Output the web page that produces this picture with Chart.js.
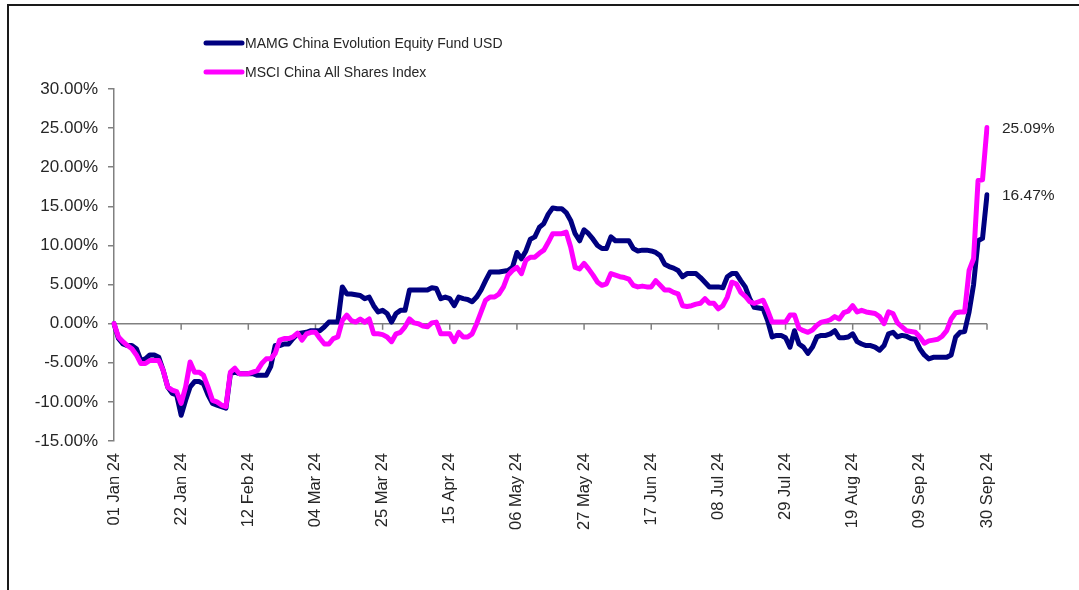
<!DOCTYPE html>
<html>
<head>
<meta charset="utf-8">
<script src="https://cdn.jsdelivr.net/npm/chart.js@4.4.1/dist/chart.umd.min.js"></script>
<style>
html,body{margin:0;padding:0;background:#fff;}
#wrap{width:1079px;height:590px;position:relative;}
</style>
</head>
<body>
<div id="wrap"><canvas id="c" width="1079" height="590"></canvas></div>
<script>
const seriesNames = ['MAMG China Evolution Equity Fund USD', 'MSCI China All Shares Index'];

const tickLabels = ['01 Jan 24','22 Jan 24','12 Feb 24','04 Mar 24','25 Mar 24','15 Apr 24','06 May 24',
  '27 May 24','17 Jun 24','08 Jul 24','29 Jul 24','19 Aug 24','09 Sep 24','30 Sep 24'];

const fundValues = [
  0, -1.9, -2.6, -2.8, -2.8, -3.2, -4.7, -4.5, -4.0, -4.0,
  -4.3, -6.0, -8.1, -8.9, -9.1, -11.7, -9.8, -8.1, -7.4, -7.4,
  -7.7, -9.1, -10.2, -10.4, -10.6, -10.8, -6.4, -6.2, -6.4, -6.4,
  -6.4, -6.4, -6.6, -6.6, -6.6, -5.5, -2.8, -2.8, -2.6, -2.6,
  -1.9, -1.3, -1.2, -1.1, -0.9, -0.9, -0.9, -0.4, 0.2, 0.2,
  0.2, 4.7, 3.8, 3.8, 3.7, 3.6, 3.2, 3.4, 2.3, 1.5,
  1.7, 1.3, 0.2, 1.3, 1.7, 1.7, 4.3, 4.3, 4.3, 4.3,
  4.3, 4.6, 4.5, 3.2, 3.4, 3.2, 2.3, 3.4, 3.2, 3.1,
  2.8, 3.4, 4.3, 5.5, 6.6, 6.6, 6.6, 6.7, 6.8, 7.2,
  9.1, 8.3, 9.3, 10.8, 11.1, 12.3, 12.8, 14.0, 14.8, 14.7,
  14.7, 14.2, 13.2, 11.5, 10.6, 12.0, 11.5, 10.8, 10.0, 9.6,
  9.6, 11.1, 10.6, 10.6, 10.6, 10.6, 9.6, 9.3, 9.4, 9.4,
  9.3, 9.1, 8.7, 7.6, 7.3, 7.1, 6.8, 6.0, 6.4, 6.4,
  6.4, 5.9, 5.3, 4.7, 4.7, 4.7, 4.6, 6.0, 6.4, 6.4,
  5.5, 4.7, 3.2, 2.1, 2.0, 1.9, 0.4, -1.7, -1.5, -1.5,
  -1.8, -3.0, -0.9, -2.6, -3.0, -3.8, -3.0, -1.7, -1.5, -1.5,
  -1.3, -0.9, -1.8, -1.8, -1.7, -1.3, -2.3, -2.6, -2.8, -2.8,
  -3.0, -3.4, -2.8, -1.3, -1.1, -1.7, -1.5, -1.6, -1.9, -2.0,
  -3.2, -4.0, -4.5, -4.3, -4.3, -4.3, -4.3, -4.0, -1.7, -1.1,
  -1.0, 1.5, 5.0, 10.6, 10.9, 16.47
];

const indexValues = [
  0, -1.7, -2.3, -2.8, -3.2, -4.0, -5.1, -5.1, -4.7, -4.7,
  -4.7, -6.0, -8.1, -8.5, -8.7, -10.2, -8.1, -4.9, -6.2, -6.2,
  -6.6, -8.1, -9.8, -10.0, -10.4, -10.6, -6.2, -5.7, -6.4, -6.4,
  -6.4, -6.2, -6.0, -5.1, -4.5, -4.5, -3.8, -2.1, -1.9, -1.9,
  -1.7, -1.2, -2.1, -1.3, -1.1, -1.1, -1.9, -2.6, -2.6, -1.9,
  -1.7, 0.4, 1.1, 0.4, 0.2, 0.6, 0.2, 0.6, -1.3, -1.3,
  -1.4, -1.7, -2.3, -1.3, -1.1, -0.4, 0.6, 0.1, 0, -0.3,
  -0.4, 0.1, 0.2, -1.3, -1.3, -1.3, -2.3, -1.1, -1.7, -1.7,
  -1.3, 0, 1.5, 3.0, 3.4, 3.4, 3.8, 4.7, 6.2, 6.8,
  7.2, 6.4, 8.1, 8.5, 8.5, 9.0, 9.4, 10.4, 11.5, 11.5,
  11.5, 11.7, 9.8, 7.2, 7.0, 7.7, 7.0, 6.2, 5.3, 4.9,
  5.1, 6.4, 6.2, 6.0, 5.9, 5.7, 4.9, 4.7, 4.8, 4.7,
  4.7, 5.5, 4.9, 4.3, 4.3, 4.0, 3.8, 2.3, 2.2, 2.3,
  2.5, 2.6, 3.2, 2.6, 2.6, 1.9, 2.3, 3.4, 5.3, 5.1,
  4.0, 3.5, 2.8, 2.6, 2.8, 3.0, 1.7, 0.2, 0.2, 0.2,
  0.2, 1.1, 1.1, -0.6, -0.9, -1.1, -0.8, -0.2, 0.2, 0.3,
  0.5, 0.9, 0.6, 1.4, 1.6, 2.3, 1.5, 1.7, 1.5, 1.4,
  1.3, 0.9, 0, 1.5, 1.3, 0.1, -0.4, -0.9, -1.0, -1.1,
  -1.7, -2.5, -2.2, -2.1, -2.0, -1.6, -0.9, 0.6, 1.4, 1.5,
  1.5, 6.8, 8.3, 18.3, 18.4, 25.09
];

// categories: every business day from 01 Jan 24 to 30 Sep 24
const monthNames = ['Jan','Feb','Mar','Apr','May','Jun','Jul','Aug','Sep','Oct','Nov','Dec'];
const categories = [];
(function(){
  const d = new Date(Date.UTC(2024, 0, 1));
  const end = Date.UTC(2024, 8, 30);
  while (d.getTime() <= end) {
    const w = d.getUTCDay();
    if (w !== 0 && w !== 6) {
      categories.push(String(d.getUTCDate()).padStart(2,'0') + ' ' + monthNames[d.getUTCMonth()] + ' 24');
    }
    d.setUTCDate(d.getUTCDate() + 1);
  }
})();

const TICK_EVERY = 15;
const seriesColors = ['#000080', '#ff00ff'];
const FONT = "'Liberation Sans', Arial, sans-serif";
const TEXT = '#262626';
const AXIS = '#808080';

const decor = {
  id: 'decor',
  beforeDatasetsDraw(chart) {
    const {ctx, chartArea: a, scales: {x, y}} = chart;
    const y0 = y.getPixelForValue(0);
    ctx.save();
    ctx.strokeStyle = AXIS;
    ctx.lineWidth = 1.5;
    ctx.beginPath();
    ctx.moveTo(a.left, y0);
    ctx.lineTo(a.right, y0);
    for (let i = TICK_EVERY; i < categories.length; i += TICK_EVERY) {
      const px = x.getPixelForValue(i);
      ctx.moveTo(px, y0);
      ctx.lineTo(px, y0 + 6);
    }
    ctx.stroke();
    ctx.restore();
  },
  afterDraw(chart) {
    const {ctx} = chart;
    ctx.save();
    // frame
    ctx.strokeStyle = '#1a1a1a';
    ctx.lineWidth = 2;
    ctx.beginPath();
    ctx.moveTo(8, 590);
    ctx.lineTo(8, 5);
    ctx.lineTo(1079, 5);
    ctx.stroke();

    // legend
    const legendY = [43, 72];
    ctx.font = '14px ' + FONT;
    ctx.textBaseline = 'middle';
    ctx.textAlign = 'left';
    chart.data.datasets.forEach((ds, k) => {
      ctx.strokeStyle = ds.borderColor;
      ctx.lineWidth = 5;
      ctx.lineCap = 'round';
      ctx.beginPath();
      ctx.moveTo(206, legendY[k]);
      ctx.lineTo(242, legendY[k]);
      ctx.stroke();
      ctx.fillStyle = TEXT;
      ctx.fillText(ds.label, 245, legendY[k] + 1);
    });

    // end value labels
    ctx.font = '15.5px ' + FONT;
    chart.data.datasets.forEach((ds, k) => {
      const meta = chart.getDatasetMeta(k);
      const pt = meta.data[meta.data.length - 1];
      const v = ds.data[ds.data.length - 1];
      ctx.fillStyle = TEXT;
      ctx.fillText(v.toFixed(2) + '%', pt.x + 15, pt.y + 1);
    });
    ctx.restore();
  }
};

new Chart(document.getElementById('c'), {
  type: 'line',
  data: {
    labels: categories,
    datasets: [
      {label: seriesNames[0], data: fundValues, borderColor: seriesColors[0], borderWidth: 5,
       pointRadius: 0, tension: 0, order: 1, borderJoinStyle: 'round', borderCapStyle: 'round', fill: false},
      {label: seriesNames[1], data: indexValues, borderColor: seriesColors[1], borderWidth: 5,
       pointRadius: 0, tension: 0, order: 0, borderJoinStyle: 'round', borderCapStyle: 'round', fill: false}
    ]
  },
  options: {
    responsive: false,
    animation: false,
    devicePixelRatio: 1,
    layout: {padding: {left: 0, right: 92, top: 89, bottom: 0}},
    plugins: {legend: {display: false}, tooltip: {enabled: false}},
    scales: {
      x: {
        type: 'category',
        offset: false,
        grid: {display: false, drawTicks: false},
        border: {display: false},
        ticks: {
          autoSkip: false, minRotation: 90, maxRotation: 90, padding: 12,
          color: TEXT, font: {family: FONT, size: 16.5},
          callback: (v, i) => (i % TICK_EVERY === 0 ? tickLabels[i / TICK_EVERY] : '')
        },
        afterFit: (s) => { s.height = 149; }
      },
      y: {
        min: -15, max: 30,
        grid: {drawOnChartArea: false, drawTicks: true, tickLength: 6, color: AXIS, lineWidth: 1.5},
        border: {display: true, color: AXIS, width: 1.5},
        ticks: {
          stepSize: 5, padding: 10, color: TEXT, font: {family: FONT, size: 17},
          callback: (v) => v.toFixed(2) + '%'
        },
        afterFit: (s) => { s.width = 114; }
      }
    }
  },
  plugins: [decor]
});
</script>
</body>
</html>
